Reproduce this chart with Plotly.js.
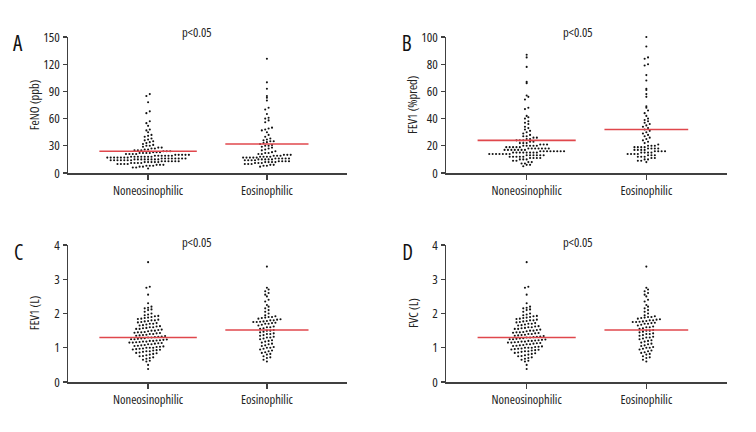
<!DOCTYPE html>
<html>
<head>
<meta charset="utf-8">
<script src="https://cdn.plot.ly/plotly-3.0.1.min.js"></script>
<style>
html,body{margin:0;padding:0;background:#fff;}
#chart{width:756px;height:432px;}
#chart svg text{font-stretch:condensed !important;}
</style>
</head>
<body>
<div id="chart"></div>
<script>
// ---------- data ----------
const categories = ["Noneosinophilic", "Eosinophilic"];
const pLabel = "p<0.05";

const fenoNon = [5,6,6,7,7,8,8,8,9,9,9,10,10,10,10,11,11,11,11,12,12,12,12,12,13,13,13,13,13,13,14,14,14,14,14,14,14,15,15,15,15,15,15,15,15,16,16,16,16,16,16,16,16,17,17,17,17,17,17,17,18,18,18,18,18,18,18,19,19,19,19,19,19,20,20,20,20,20,21,21,21,21,22,22,22,22,23,23,23,24,24,24,25,25,25,26,26,27,27,28,28,29,30,30,31,32,33,34,35,36,37,38,40,41,42,45,47,48,52,55,57,66,68,78,85,87];
const fenoEos = [7,8,8,9,9,10,10,10,11,11,11,12,12,12,12,13,13,13,13,14,14,14,14,15,15,15,15,15,16,16,16,16,16,17,17,17,17,17,18,18,18,18,19,19,19,20,20,20,21,21,22,22,23,24,25,26,27,28,29,30,30,31,32,33,34,35,35,36,37,38,40,42,45,47,48,49,50,56,58,60,61,65,70,72,80,83,85,93,100,126];
const fenoMeans = [24, 32];

const fev1PredNon = [5,6,6,7,7,8,8,9,9,10,10,10,11,11,11,11,12,12,12,12,12,13,13,13,13,13,13,14,14,14,14,14,14,14,15,15,15,15,15,15,15,15,16,16,16,16,16,16,16,16,17,17,17,17,17,17,17,18,18,18,18,18,18,18,19,19,19,19,19,20,20,20,20,20,21,21,21,22,22,22,23,23,24,24,24,25,25,26,26,27,27,28,29,30,31,32,33,34,36,37,38,40,41,42,47,48,54,56,57,66,67,78,85,87];
const fev1PredEos = [8,9,9,10,10,11,11,12,12,12,13,13,13,14,14,14,14,15,15,15,15,16,16,16,16,17,17,17,17,18,18,18,18,19,19,19,19,20,20,20,21,22,23,24,25,26,27,28,29,30,31,32,33,34,35,36,37,38,39,40,42,44,46,48,49,56,58,61,62,68,72,79,80,84,85,93,100];
const fev1PredMeans = [24, 32];

const fev1LNon = [0.38,0.5,0.6,0.62,0.65,0.68,0.7,0.72,0.75,0.76,0.78,0.8,0.82,0.84,0.85,0.86,0.88,0.9,0.9,0.92,0.93,0.94,0.95,0.96,0.97,0.98,1.0,1.0,1.0,1.02,1.03,1.04,1.05,1.06,1.07,1.08,1.1,1.1,1.12,1.13,1.14,1.15,1.15,1.16,1.17,1.18,1.18,1.2,1.2,1.21,1.22,1.23,1.24,1.25,1.25,1.26,1.27,1.28,1.3,1.3,1.31,1.32,1.33,1.34,1.35,1.36,1.37,1.38,1.4,1.4,1.42,1.43,1.44,1.45,1.45,1.46,1.48,1.5,1.5,1.52,1.53,1.55,1.55,1.57,1.58,1.6,1.6,1.62,1.63,1.65,1.66,1.68,1.7,1.7,1.72,1.74,1.75,1.77,1.78,1.8,1.8,1.82,1.84,1.85,1.87,1.88,1.9,1.92,1.93,1.95,1.97,2.0,2.05,2.1,2.12,2.15,2.17,2.2,2.3,2.55,2.75,2.78,3.5];
const fev1LEos = [0.6,0.65,0.7,0.72,0.75,0.8,0.82,0.85,0.87,0.9,0.92,0.95,0.97,1.0,1.0,1.02,1.05,1.07,1.1,1.12,1.15,1.18,1.2,1.22,1.25,1.27,1.3,1.3,1.32,1.35,1.37,1.4,1.4,1.42,1.45,1.47,1.5,1.5,1.52,1.55,1.57,1.6,1.6,1.62,1.65,1.67,1.7,1.7,1.72,1.73,1.75,1.75,1.76,1.77,1.78,1.8,1.8,1.82,1.83,1.85,1.87,1.88,1.9,1.9,1.92,1.95,2.0,2.05,2.1,2.15,2.2,2.25,2.35,2.4,2.5,2.55,2.6,2.65,2.7,2.75,3.37];
const fev1LMeans = [1.30, 1.52];

const fvcNon = [0.38,0.5,0.6,0.62,0.65,0.68,0.7,0.72,0.75,0.76,0.78,0.8,0.82,0.84,0.85,0.86,0.88,0.9,0.9,0.92,0.93,0.94,0.95,0.96,0.97,0.98,1.0,1.0,1.0,1.02,1.03,1.04,1.05,1.06,1.07,1.08,1.1,1.1,1.12,1.13,1.14,1.15,1.15,1.16,1.17,1.18,1.18,1.2,1.2,1.21,1.22,1.23,1.24,1.25,1.25,1.26,1.27,1.28,1.3,1.3,1.31,1.32,1.33,1.34,1.35,1.36,1.37,1.38,1.4,1.4,1.42,1.43,1.44,1.45,1.45,1.46,1.48,1.5,1.5,1.52,1.53,1.55,1.55,1.57,1.58,1.6,1.6,1.62,1.63,1.65,1.66,1.68,1.7,1.7,1.72,1.74,1.75,1.77,1.78,1.8,1.8,1.82,1.84,1.85,1.87,1.88,1.9,1.92,1.93,1.95,1.97,2.0,2.05,2.1,2.12,2.15,2.17,2.2,2.3,2.55,2.75,2.78,3.5];
const fvcEos = [0.6,0.65,0.7,0.72,0.75,0.8,0.82,0.85,0.87,0.9,0.92,0.95,0.97,1.0,1.0,1.02,1.05,1.07,1.1,1.12,1.15,1.18,1.2,1.22,1.25,1.27,1.3,1.3,1.32,1.35,1.37,1.4,1.4,1.42,1.45,1.47,1.5,1.5,1.52,1.55,1.57,1.6,1.6,1.62,1.65,1.67,1.7,1.7,1.72,1.73,1.75,1.75,1.76,1.77,1.78,1.8,1.8,1.82,1.83,1.85,1.87,1.88,1.9,1.9,1.92,1.95,2.0,2.05,2.1,2.15,2.2,2.25,2.35,2.4,2.5,2.55,2.6,2.65,2.7,2.75,3.37];
const fvcMeans = [1.30, 1.52];

// ---------- layout helpers ----------
const W = 756, H = 432;
const FONT = '"Open Sans", "Roboto Condensed", sans-serif';
const XR = [-0.674, 1.674];
const lineHalf = [0.41, 0.35];

const panels = [
  {letter:'A', ytitle:'FeNO (ppb)', ymax:150, dtick:30, xpx:[68,347], ypx:[37,173], letterPx:[18,43], titleX:34, pPx:[197,33], non:fenoNon, eos:fenoEos, means:fenoMeans},
  {letter:'B', ytitle:'FEV1 (%pred)', ymax:100, dtick:20, xpx:[446,727], ypx:[37,173], letterPx:[407,43], titleX:412, pPx:[578,33], non:fev1PredNon, eos:fev1PredEos, means:fev1PredMeans},
  {letter:'C', ytitle:'FEV1 (L)', ymax:4, dtick:1, xpx:[68,347], ypx:[245,382], letterPx:[18,252], titleX:34, pPx:[197,242], non:fev1LNon, eos:fev1LEos, means:fev1LMeans},
  {letter:'D', ytitle:'FVC (L)', ymax:4, dtick:1, xpx:[446,727], ypx:[245,382], letterPx:[407,252], titleX:413, pPx:[578,242], non:fvcNon, eos:fvcEos, means:fvcMeans}
];

// beeswarm layout: group values into rows of one dot height, spread each row symmetrically
function swarm(vals, center, pxPerY, pxPerX) {
  const rowH = 3.4, sp = 3.4;
  const bins = {};
  vals.forEach(v => { const b = Math.round(v * pxPerY / rowH); (bins[b] = bins[b] || []).push(v); });
  const xs = [], ys = [];
  Object.keys(bins).forEach(k => {
    const arr = bins[k].slice().sort((a,b)=>a-b);
    const n = arr.length;
    arr.forEach((v, i) => {
      xs.push(center + (i - (n - 1) / 2) * sp / pxPerX);
      ys.push(v);
    });
  });
  return {x: xs, y: ys};
}

const traces = [];
const layout = {
  width: W, height: H, margin: {l:0, r:0, t:0, b:0},
  paper_bgcolor: '#fff', plot_bgcolor: '#fff', showlegend: false,
  font: {family: FONT, size: 12, color: '#222'},
  annotations: []
};

panels.forEach((p, i) => {
  const k = i === 0 ? '' : String(i + 1);
  const xa = 'x' + k, ya = 'y' + k;
  const pxPerX = (p.xpx[1] - p.xpx[0]) / (XR[1] - XR[0]);
  const pxPerY = (p.ypx[1] - p.ypx[0]) / p.ymax;
  [p.non, p.eos].forEach((vals, g) => {
    const s = swarm(vals, g, pxPerY, pxPerX);
    traces.push({type:'scatter', mode:'markers', x:s.x, y:s.y, xaxis:xa, yaxis:ya,
      marker:{size:2.1, color:'#111'}, hoverinfo:'skip', cliponaxis:false});
    traces.push({type:'scatter', mode:'lines', x:[g - lineHalf[g], g + lineHalf[g]], y:[p.means[g], p.means[g]],
      xaxis:xa, yaxis:ya, line:{color:'#e0474c', width:1.6}, hoverinfo:'skip'});
  });
  layout['xaxis' + k] = {
    domain: [p.xpx[0] / W, p.xpx[1] / W], range: XR, anchor: ya,
    tickvals: [0, 1], ticktext: categories, showgrid: false, zeroline: false,
    showline: true, linecolor: '#404040', linewidth: 1.5,
    ticks: 'outside', ticklen: 5, tickwidth: 1.2, tickcolor: '#404040',
    tickfont: {family: FONT, size: 12.5, color: '#222'}, fixedrange: true
  };
  layout['yaxis' + k] = {
    domain: [1 - p.ypx[1] / H, 1 - p.ypx[0] / H], range: [0, p.ymax], anchor: xa,
    tick0: 0, dtick: p.dtick, showgrid: false, zeroline: false,
    showline: true, linecolor: '#404040', linewidth: 1.5,
    ticks: 'outside', ticklen: 4, tickwidth: 1.2, tickcolor: '#404040',
    tickfont: {family: FONT, size: 13, color: '#222'}, fixedrange: true
  };
  layout.annotations.push({
    text: p.ytitle, xref: 'paper', yref: 'paper', showarrow: false, textangle: -90,
    x: p.titleX / W, y: 1 - ((p.ypx[0] + p.ypx[1]) / 2) / H, xanchor: 'center', yanchor: 'middle',
    font: {family: FONT, size: 12.5, color: '#222'}
  });
  layout.annotations.push({
    text: p.letter, xref: 'paper', yref: 'paper', showarrow: false,
    x: p.letterPx[0] / W, y: 1 - p.letterPx[1] / H, xanchor: 'center', yanchor: 'middle',
    font: {family: FONT, size: 21, color: '#111'}
  });
  layout.annotations.push({
    text: pLabel, xref: 'paper', yref: 'paper', showarrow: false,
    x: p.pPx[0] / W, y: 1 - p.pPx[1] / H, xanchor: 'center', yanchor: 'middle',
    font: {family: FONT, size: 12.5, color: '#222'}
  });
});

Plotly.newPlot('chart', traces, layout, {staticPlot: true, displayModeBar: false});
</script>
</body>
</html>
